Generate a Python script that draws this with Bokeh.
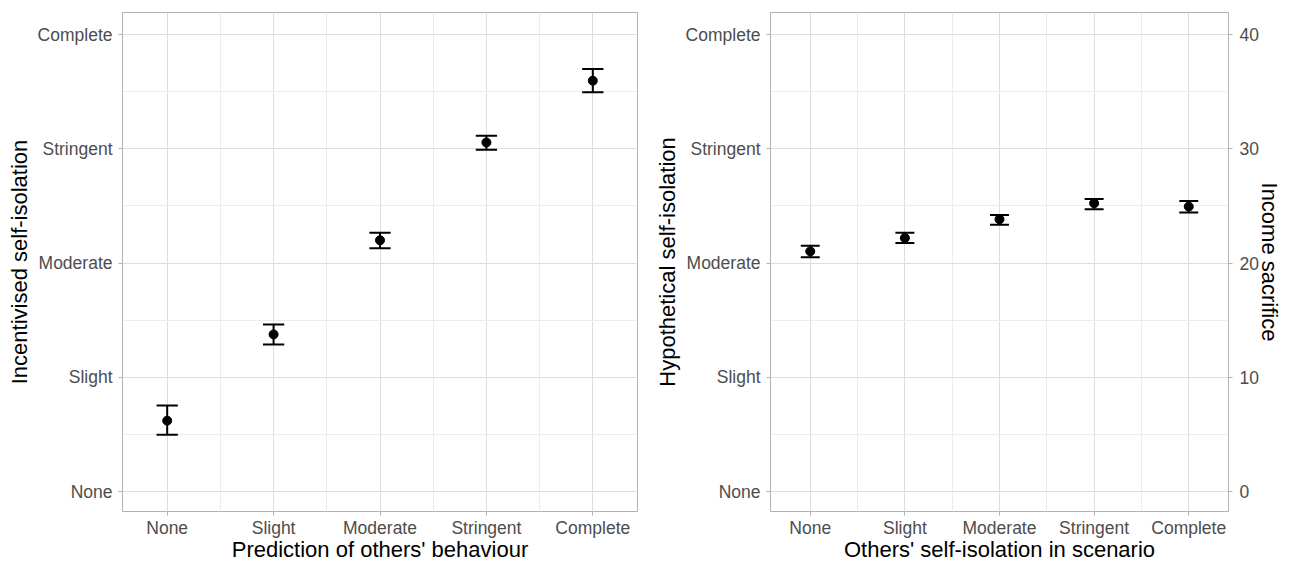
from bokeh.plotting import figure
from bokeh.layouts import row
from bokeh.models import Range1d, FixedTicker, LinearAxis
from bokeh.embed import file_html
from bokeh.resources import INLINE

# ---- data ----
categories = ["None", "Slight", "Moderate", "Stringent", "Complete"]
level_values = [0, 10, 20, 30, 40]          # position of each level on the income-sacrifice scale
income_ticks = [0, 10, 20, 30, 40]

left_mean = [6.20, 13.75, 21.99, 30.55, 35.96]
left_lower = [4.97, 12.87, 21.29, 29.91, 34.94]
left_upper = [7.52, 14.62, 22.66, 31.14, 36.99]

right_mean = [21.02, 22.19, 23.83, 25.23, 24.94]
right_lower = [20.50, 21.75, 23.36, 24.71, 24.42]
right_upper = [21.52, 22.66, 24.21, 25.61, 25.44]

left_xlabel = "Prediction of others' behaviour"
left_ylabel = "Incentivised self-isolation"
right_xlabel = "Others' self-isolation in scenario"
right_ylabel = "Hypothetical self-isolation"
right_y2label = "Income sacrifice"

FONT = "Liberation Sans"
TICK_COL = "#4d4d4d"
BORDER = "#b3b3b3"

positions = list(range(1, len(categories) + 1))
x_overrides = {p: c for p, c in zip(positions, categories)}
y_overrides = {v: c for v, c in zip(level_values, categories)}
x_minor = [p + 0.5 for p in positions[:-1]]
y_minor = [v + 5 for v in level_values[:-1]]


def style_axis(ax, size="17.5px"):
    ax.axis_line_color = None
    ax.major_tick_line_color = BORDER
    ax.major_tick_out = 4
    ax.major_tick_in = 0
    ax.minor_tick_line_color = None
    ax.major_label_text_font = FONT
    ax.major_label_text_font_size = size
    ax.major_label_text_color = TICK_COL
    ax.axis_label_text_font = FONT
    ax.axis_label_text_font_size = "22px"
    ax.axis_label_text_font_style = "normal"
    ax.axis_label_text_color = "black"


def make_panel(mean, lower, upper, xlabel, ylabel, width, mbl, mbr):
    p = figure(width=width, height=564, output_backend="svg", toolbar_location=None,
               x_range=Range1d(0.58, 5.42), y_range=Range1d(-1.75, 41.93),
               min_border_left=mbl, min_border_right=mbr, min_border_top=12,
               min_border_bottom=0)
    p.background_fill_color = "white"
    p.border_fill_color = "white"
    p.outline_line_color = BORDER
    p.outline_line_width = 1

    p.xaxis.ticker = FixedTicker(ticks=positions, minor_ticks=x_minor)
    p.yaxis.ticker = FixedTicker(ticks=level_values, minor_ticks=y_minor)
    p.xaxis.major_label_overrides = x_overrides
    p.yaxis.major_label_overrides = y_overrides
    p.xaxis.axis_label = xlabel
    p.yaxis.axis_label = ylabel
    for ax in (p.xaxis[0], p.yaxis[0]):
        style_axis(ax)
    p.xaxis.major_label_standoff = 2
    p.xaxis.axis_label_standoff = -4
    p.yaxis.major_label_standoff = 6
    p.yaxis.axis_label_standoff = 3

    for g in (p.xgrid[0], p.ygrid[0]):
        g.grid_line_color = "#dedede"
        g.grid_line_width = 1
        g.minor_grid_line_color = "#ececec"
        g.minor_grid_line_width = 1

    cap = 0.1
    p.segment(x0=positions, y0=lower, x1=positions, y1=upper, line_color="black", line_width=2)
    p.segment(x0=[x - cap for x in positions], y0=upper, x1=[x + cap for x in positions], y1=upper,
              line_color="black", line_width=2)
    p.segment(x0=[x - cap for x in positions], y0=lower, x1=[x + cap for x in positions], y1=lower,
              line_color="black", line_width=2)
    p.scatter(x=positions, y=mean, size=9, marker="circle", fill_color="black", line_color="black")
    return p


p1 = make_panel(left_mean, left_lower, left_upper, left_xlabel, left_ylabel, 650, 122, 13)
p2 = make_panel(right_mean, right_lower, right_upper, right_xlabel, right_ylabel, 643, 120, 65)

p2.extra_y_ranges = {"income": Range1d(-1.75, 41.93)}
ax2 = LinearAxis(y_range_name="income", ticker=FixedTicker(ticks=income_ticks))
style_axis(ax2)
ax2.axis_label = right_y2label
ax2.major_label_standoff = 7
ax2.axis_label_standoff = -5
p2.add_layout(ax2, "right")

layout = row(p1, p2)
open("out.html", "w").write(file_html(layout, INLINE))
